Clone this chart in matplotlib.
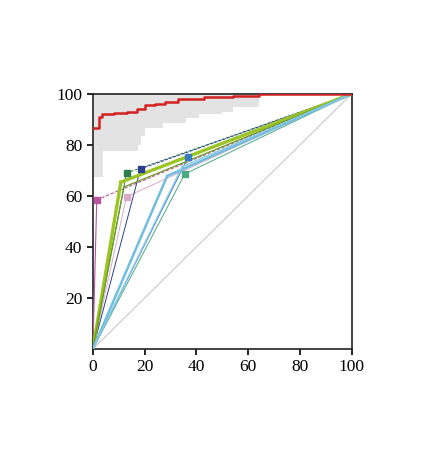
import numpy as np
import matplotlib
matplotlib.use("Agg")
import matplotlib.pyplot as plt

# red step curve (upper)
red_x = [0, 2.5, 3.5, 8, 13, 17, 20, 24, 28, 33, 43, 54, 64, 100]
red_y = [86.5, 91.0, 92.0, 92.5, 93.0, 94.0, 95.5, 96.0, 96.8, 97.8, 98.8, 99.3, 100, 100]

# grey band lower edge (upper edge = 100)
band_x = [0.5, 4, 17.5, 18.5, 20, 27, 36, 41, 50, 54, 64]
band_lo = [67.5, 77.5, 80, 83.5, 86.5, 88.5, 90.5, 92, 93, 95, 95]

# single operating points (fpr, tpr) for each classifier
pt_x = [1.5, 13.0, 13.0, 18.4, 36.8, 35.5, 10.8, 12.0, 28.7, 34.5]
pt_y = [58.5, 59.7, 69.0, 70.6, 75.2, 68.6, 65.4, 63.5, 67.8, 71.5]
pt_col = ['#b8559e', '#d9aacb', '#2e7d4f', '#2b3f8f', '#3a7cc4',
          '#4aaa86', '#9cc424', '#6b9a22', '#70bde0', '#8ac8e6']
pt_lw = [0.8, 0.7, 0.7, 0.7, 0.7, 0.7, 2.4, 0.9, 1.8, 1.0]
pt_marker = [True, True, True, True, True, True, False, False, False, False]
pt_dash = [True, False, True, True, False, False, False, False, False, False]

x_ticks = [0, 20, 40, 60, 80, 100]
y_ticks = [20, 40, 60, 80, 100]

fig = plt.figure(figsize=(4.3, 4.5), dpi=100)
ax = fig.add_axes([0.216, 0.2244, 0.602, 0.567])

ax.fill_between(band_x, band_lo, 100, step='post', color='#e3e3e3', lw=0, zorder=1)
ax.plot([0, 100], [0, 100], color='#b8b8c0', lw=0.6, zorder=2)

for x, y, c, lw, mk, ds in zip(pt_x, pt_y, pt_col, pt_lw, pt_marker, pt_dash):
    ax.plot([0, x], [0, y], color=c, lw=lw, zorder=3)
    ax.plot([x, 100], [y, 100], color=c, lw=lw, ls=(0, (3, 1.5)) if ds else '-', zorder=3)
    if mk:
        ax.plot(x, y, marker='s', ms=3.8, color=c, zorder=4)

ax.step(red_x, red_y, where='post', color='#d42020', lw=1.8, zorder=5)

ax.set_xlim(0, 100)
ax.set_ylim(0, 100)
ax.set_xticks(x_ticks)
ax.set_yticks(y_ticks)
ax.tick_params(direction='out', length=4, width=1.2, top=False, right=False)
for lab in ax.get_xticklabels() + ax.get_yticklabels():
    lab.set_fontfamily('Liberation Serif')
    lab.set_fontsize(12.5)
for s in ax.spines.values():
    s.set_linewidth(1.2)
    s.set_color('#222222')

fig.savefig("out.png", dpi=100)
